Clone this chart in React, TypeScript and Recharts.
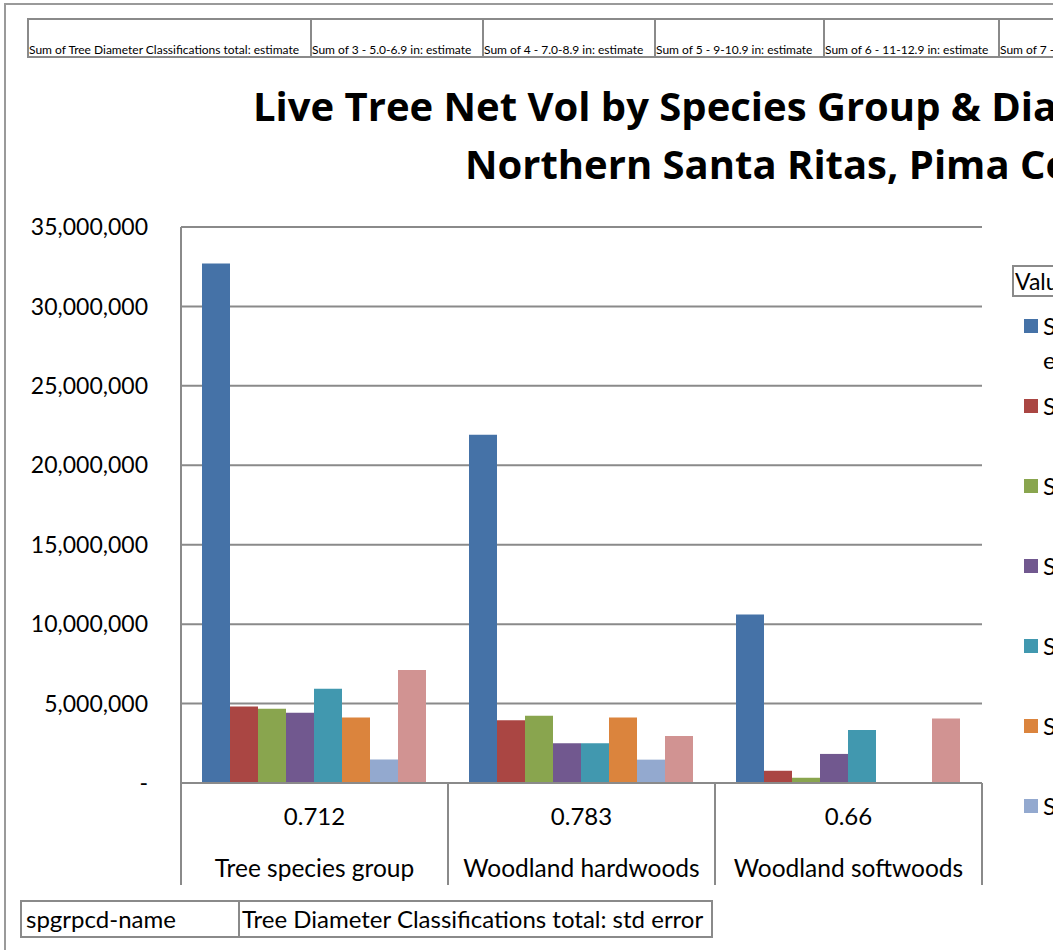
import React from "react";
import { BarChart, Bar, XAxis, YAxis, CartesianGrid } from "recharts";

const categories = ["Tree species group", "Woodland hardwoods", "Woodland softwoods"];
const stdErrors = ["0.712", "0.783", "0.66"];

const seriesNames = [
  "Sum of Tree Diameter Classifications total: estimate",
  "Sum of 3 - 5.0-6.9 in: estimate",
  "Sum of 4 - 7.0-8.9 in: estimate",
  "Sum of 5 - 9-10.9 in: estimate",
  "Sum of 6 - 11-12.9 in: estimate",
  "Sum of 7 - 13-14.9 in: estimate",
  "Sum of 8 - 15-16.9 in: estimate",
  "Sum of 9 - 17-18.9 in: estimate",
];
const seriesColors = ["#4572A7", "#AA4643", "#89A54E", "#71588F", "#4198AF", "#DB843D", "#93A9CF", "#D19392"];

const totalEstimate = [32700000, 21930000, 10600000];
const class3 = [4820000, 3950000, 770000];
const class4 = [4670000, 4240000, 330000];
const class5 = [4420000, 2500000, 1830000];
const class6 = [5930000, 2500000, 3330000];
const class7 = [4120000, 4120000, 0];
const class8 = [1480000, 1470000, 0];
const class9 = [7120000, 2960000, 4060000];

const seriesValues = [totalEstimate, class3, class4, class5, class6, class7, class8, class9];

const yTicks = [0, 5000000, 10000000, 15000000, 20000000, 25000000, 30000000, 35000000];

const data = categories.map((name, i) => {
  const row: Record<string, string | number> = { name, stdErr: stdErrors[i] };
  seriesValues.forEach((vals, s) => {
    row["s" + s] = vals[i];
  });
  return row;
});

const FONT = "Lato, 'Open Sans', sans-serif";
const GRID = "#8a8a8a";
const PLOT_LEFT = 181;
const PLOT_RIGHT = 982;
const HALF_BAND = (PLOT_RIGHT - PLOT_LEFT) / categories.length / 2;

const fmtY = (v: number) => (v === 0 ? "-" : v.toLocaleString("en-US"));

function CategoryTick(props: any) {
  const { x, y, payload, index } = props;
  const i = categories.indexOf(payload.value);
  return (
    <g>
      <line x1={x - HALF_BAND} x2={x - HALF_BAND} y1={y} y2={y + 102} stroke={GRID} strokeWidth={2} />
      {index === categories.length - 1 && (
        <line x1={x + HALF_BAND} x2={x + HALF_BAND} y1={y} y2={y + 102} stroke={GRID} strokeWidth={2} />
      )}
      <text x={x} y={y + 42} textAnchor="middle" fontSize={24} fontFamily={FONT} fill="#000">
        {stdErrors[i]}
      </text>
      <text x={x} y={y + 94} textAnchor="middle" fontSize={24.5} fontFamily={FONT} fill="#000">
        {payload.value}
      </text>
    </g>
  );
}

const headerWidths = [281, 170, 170, 167, 173, 170, 170, 170];

const titleStyle: React.CSSProperties = {
  position: "absolute",
  fontFamily: "'Open Sans', Lato, sans-serif",
  fontSize: 40,
  fontWeight: 700,
  whiteSpace: "nowrap",
  lineHeight: "46px",
};

export default function App() {
  return (
    <div
      style={{
        position: "absolute",
        left: 0,
        top: 0,
        width: 1053,
        height: 950,
        overflow: "hidden",
        background: "#fff",
        fontFamily: FONT,
      }}
    >
      {/* outer chart frame, cut off at the right and bottom */}
      <div style={{ position: "absolute", left: 4, top: 3, width: 1200, height: 1100, border: "2px solid #9a9a9a" }} />

      {/* pivot field buttons */}
      <div style={{ position: "absolute", left: 27, top: 18, display: "flex", whiteSpace: "nowrap" }}>
        {seriesNames.map((n, i) => (
          <div
            key={n}
            style={{
              width: headerWidths[i],
              height: 36,
              border: "2px solid #8a8a8a",
              marginLeft: i === 0 ? 0 : -2,
              fontSize: 12,
              lineHeight: "14px",
              display: "flex",
              alignItems: "flex-end",
              overflow: "hidden",
              boxSizing: "content-box",
            }}
          >
            <span style={{ marginBottom: -1 }}>{n}</span>
          </div>
        ))}
      </div>

      {/* title */}
      <div style={{ ...titleStyle, left: 253, top: 83 }}>Live Tree Net Vol by Species Group &amp; Diameter Class,</div>
      <div style={{ ...titleStyle, left: 465, top: 141 }}>Northern Santa Ritas, Pima County, AZ</div>

      <div style={{ position: "absolute", left: 0, top: 0 }}>
        <BarChart
          width={1053}
          height={950}
          data={data}
          margin={{ top: 227, right: 1053 - PLOT_RIGHT, bottom: 0, left: 0 }}
          barCategoryGap={21}
          barGap={0}
        >
          <CartesianGrid vertical={false} stroke={GRID} strokeWidth={2} />
          <XAxis
            dataKey="name"
            height={167}
            axisLine={{ stroke: GRID, strokeWidth: 2 }}
            tickLine={false}
            tickSize={0}
            tickMargin={0}
            interval={0}
            tick={<CategoryTick />}
          />
          <YAxis
            width={PLOT_LEFT}
            domain={[0, 35000000]}
            ticks={yTicks}
            tickFormatter={fmtY}
            axisLine={{ stroke: GRID, strokeWidth: 2 }}
            tickLine={false}
            tickSize={0}
            tickMargin={33}
            tick={{ fontSize: 23, fontFamily: FONT, fill: "#000" }}
          />
          {seriesNames.map((n, s) => (
            <Bar key={n} dataKey={"s" + s} name={n} fill={seriesColors[s]} isAnimationActive={false} />
          ))}
        </BarChart>
      </div>

      {/* legend */}
      <div
        style={{
          position: "absolute",
          left: 1012,
          top: 265,
          width: 300,
          height: 28,
          border: "2px solid #8a8a8a",
          fontSize: 23,
          lineHeight: "28px",
          paddingLeft: 1,
          whiteSpace: "nowrap",
        }}
      >
        Values
      </div>
      <div style={{ position: "absolute", left: 1024, top: 309, width: 600, height: 540, overflow: "hidden" }}>
        {seriesNames.map((n, s) => (
          <div key={n} style={{ position: "absolute", left: 0, top: s * 80, display: "flex" }}>
            <div style={{ width: 14, height: 14, background: seriesColors[s], marginTop: 10, marginRight: 5 }} />
            <div style={{ width: 480, fontSize: 24, lineHeight: "34px" }}>{n}</div>
          </div>
        ))}
      </div>

      {/* row field buttons */}
      <div style={{ position: "absolute", left: 20, top: 900, display: "flex", whiteSpace: "nowrap" }}>
        <div style={{ width: 212, height: 34, border: "2px solid #8a8a8a", fontSize: 24, lineHeight: "34px", paddingLeft: 4, boxSizing: "content-box" }}>
          spgrpcd-name
        </div>
        <div style={{ width: 469, height: 34, border: "2px solid #8a8a8a", marginLeft: -2, fontSize: 24, lineHeight: "34px", paddingLeft: 2, overflow: "hidden" }}>
          Tree Diameter Classifications total: std error
        </div>
      </div>
    </div>
  );
}
